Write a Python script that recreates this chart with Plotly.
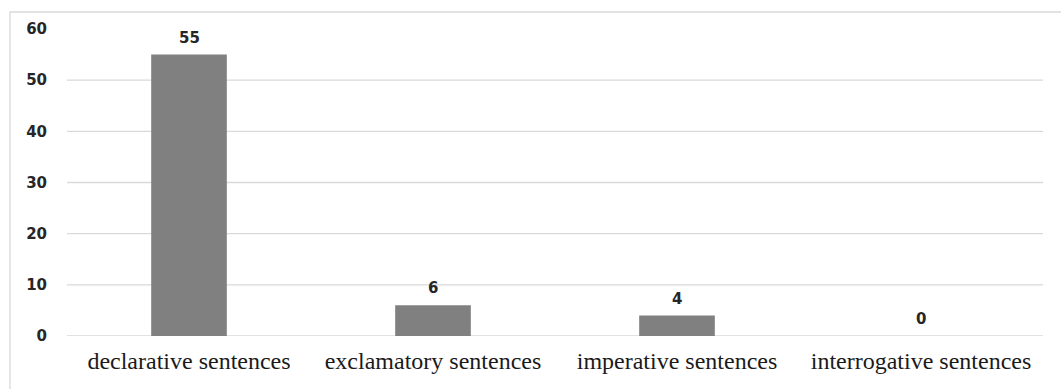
import plotly.graph_objects as go

# Sentence types and their counts
categories = ["declarative sentences", "exclamatory sentences",
              "imperative sentences", "interrogative sentences"]
counts = [55, 6, 4, 0]

# Value axis ticks
y_ticks = [0, 10, 20, 30, 40, 50, 60]
grid_values = [0, 10, 20, 30, 40, 50]

W, H = 1061, 389
M_L, M_R, M_T, M_B = 67, 18, 29, 53
plot_w = W - M_L - M_R
plot_h = H - M_T - M_B

num_font = dict(family="DejaVu Sans", size=15, color="#262626", weight="bold")

fig = go.Figure(go.Bar(
    x=categories,
    y=counts,
    marker=dict(color="#808080", line=dict(width=0)),
    hoverinfo="x+y",
))

# value labels above each bar
for c, v in zip(categories, counts):
    fig.add_annotation(x=c, y=v, text=str(v), showarrow=False,
                       yanchor="bottom", yshift=6, font=num_font)

shapes = []
for g in grid_values:
    shapes.append(dict(type="line", xref="paper", yref="y", x0=0, x1=1,
                       y0=g, y1=g, line=dict(color="#d9d9d9", width=1.3),
                       layer="below"))

# chart frame around the whole figure
shapes.append(dict(type="rect", xref="paper", yref="paper",
                   x0=(10 - M_L) / plot_w, x1=(W + 10 - M_L) / plot_w,
                   y0=-(H + 20 - (H - M_B)) / plot_h,
                   y1=((H - M_B) - 12) / plot_h,
                   line=dict(color="#d9d9d9", width=1.3),
                   fillcolor="rgba(0,0,0,0)", layer="below"))

fig.update_layout(
    width=W, height=H,
    margin=dict(l=M_L, r=M_R, t=M_T, b=M_B),
    paper_bgcolor="white",
    plot_bgcolor="white",
    bargap=0.69,
    showlegend=False,
    shapes=shapes,
    xaxis=dict(
        showgrid=False, showline=False, zeroline=False, ticks="",
        ticklabelstandoff=8,
        tickfont=dict(family="Liberation Serif", size=24, color="#1a1a1a"),
    ),
    yaxis=dict(
        range=[0, 60], tickvals=y_ticks, showgrid=False, zeroline=False,
        showline=False, ticks="", ticklabelstandoff=19,
        tickfont=num_font,
    ),
)

fig.write_html("out.html")
